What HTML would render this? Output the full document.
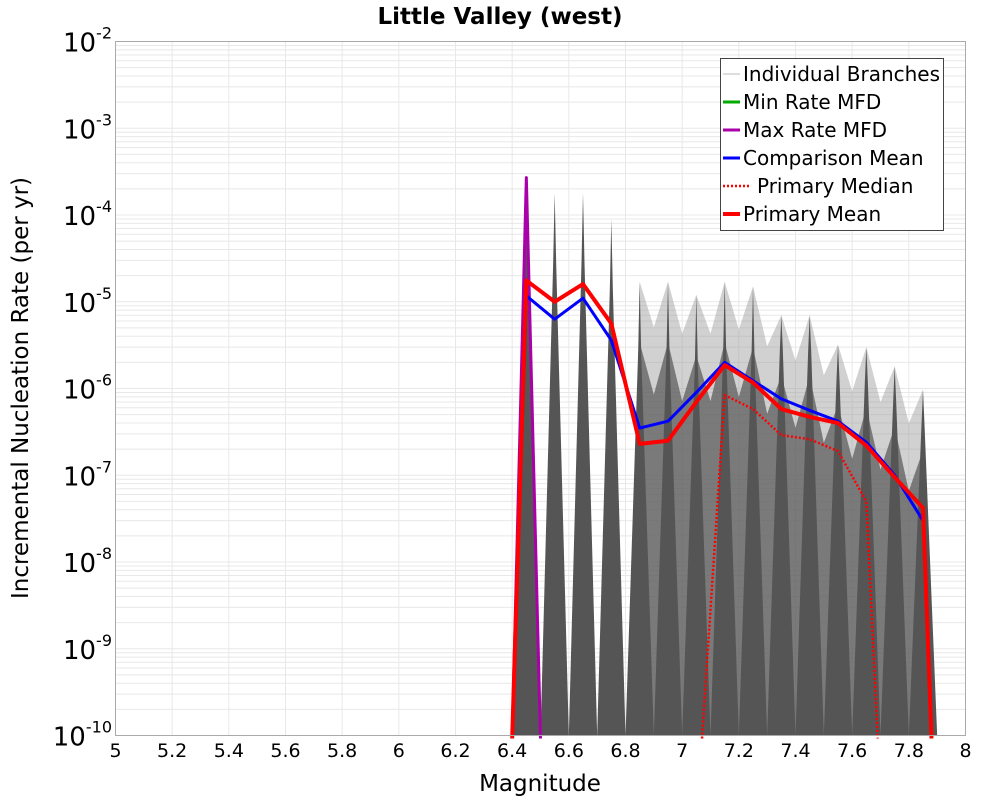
<!DOCTYPE html>
<html><head><meta charset="utf-8"><style>
body{margin:0;background:#fff;font-family:"Liberation Sans","DejaVu Sans",sans-serif}
svg text{font-family:"DejaVu Sans","Liberation Sans",sans-serif}
</style></head><body>
<svg id="chart" width="1000" height="800" xmlns="http://www.w3.org/2000/svg">
<text x="500" y="24" text-anchor="middle" font-size="23" font-weight="bold">Little Valley (west)</text>
<g id="grid"></g>
<g id="branches"></g>
<g id="series"></g>
<rect x="115.5" y="41.5" width="850" height="694" fill="none" stroke="#aaa"/>
<g id="axes"></g>
<text x="540" y="791" text-anchor="middle" font-size="23">Magnitude</text>
<text transform="translate(28,388) rotate(-90)" text-anchor="middle" font-size="23">Incremental Nucleation Rate (per yr)</text>
<g>
<rect x="720.5" y="58.5" width="223" height="172" fill="#fff" stroke="#444"/>
<g><line x1="723" y1="74" x2="740" y2="74" stroke="#bbb"/><text x="743" y="81" font-size="20">Individual Branches</text></g>
<g><line x1="723" y1="102" x2="740" y2="102" stroke="#00aa00" stroke-width="3"/><text x="743" y="109" font-size="20">Min Rate MFD</text></g>
<g><line x1="723" y1="130" x2="740" y2="130" stroke="#aa00aa" stroke-width="3"/><text x="743" y="137" font-size="20">Max Rate MFD</text></g>
<g><line x1="723" y1="158" x2="740" y2="158" stroke="#0000ff" stroke-width="3"/><text x="743" y="165" font-size="20">Comparison Mean</text></g>
<g><line x1="723" y1="186" x2="751" y2="186" stroke="#f00" stroke-width="2.5" stroke-dasharray="2,2"/><text x="757" y="193" font-size="20">Primary Median</text></g>
<g><line x1="723" y1="214" x2="740" y2="214" stroke="#f00" stroke-width="4"/><text x="743" y="221" font-size="20">Primary Mean</text></g>
</g>
</svg>
<script>
const xTicks=[5,5.2,5.4,5.6,5.8,6,6.2,6.4,6.6,6.8,7,7.2,7.4,7.6,7.8,8];
const xTickLabels=["5","5.2","5.4","5.6","5.8","6","6.2","6.4","6.6","6.8","7","7.2","7.4","7.6","7.8","8"];
const yExps=[-2,-3,-4,-5,-6,-7,-8,-9,-10];
const branchMags=[6.45,6.55,6.65,6.75,6.85,6.95,7.05,7.15,7.25,7.35,7.45,7.55,7.65,7.75,7.85];
const branchMax=[2e-4,1.8e-4,1.8e-4,9e-5,1.7e-5,1.7e-5,1.2e-5,1.7e-5,1.5e-5,7e-6,7e-6,3.2e-6,3e-6,1.8e-6,9.7e-7];
const meanMags=[6.40,6.45,6.55,6.65,6.75,6.85,6.95,7.05,7.15,7.25,7.35,7.45,7.55,7.65,7.75,7.85,7.88];
const meanVals=[1e-11,1.76e-5,1e-5,1.6e-5,5.6e-6,2.3e-7,2.5e-7,7e-7,1.86e-6,1.17e-6,5.8e-7,4.7e-7,4e-7,2.2e-7,9.5e-8,4.2e-8,1e-11];
const compMags=[6.40,6.45,6.55,6.65,6.75,6.85,6.95,7.05,7.15,7.25,7.35,7.45,7.55,7.65,7.75,7.85];
const compVals=[1e-11,1.17e-5,6.3e-6,1.1e-5,3.6e-6,3.5e-7,4.2e-7,9e-7,2e-6,1.23e-6,7.6e-7,5.6e-7,4.2e-7,2.4e-7,1e-7,3e-8];
const medianMags=[7.07,7.15,7.25,7.35,7.45,7.55,7.65,7.69];
const medianVals=[1e-11,8.4e-7,5.8e-7,2.9e-7,2.6e-7,1.9e-7,5e-8,1e-11];
const maxMags=[6.40,6.45,6.50];
const maxVals=[1e-11,2.7e-4,1e-11];
const NS="http://www.w3.org/2000/svg";
const X0=115.5,X1=965.5,Y0=41.5,Y1=735.5;
function sx(m){return X0+(m-5)/3*(X1-X0);}
function sy(v){const l=Math.max(Math.log10(v),-10.3);return Math.min(Y0+(-2-l)/8*(Y1-Y0),Y1+3);}
function mk(tag,attrs,parent){const e=document.createElementNS(NS,tag);for(const k in attrs)e.setAttribute(k,attrs[k]);parent.appendChild(e);return e;}
const grid=document.getElementById('grid'),axes=document.getElementById('axes'),br=document.getElementById('branches'),se=document.getElementById('series');
for(let e=-10;e<-2;e++){for(let k=1;k<10;k++){const y=sy(k*Math.pow(10,e));const l=mk('line',{x1:X0,x2:X1,y1:y,y2:y,stroke:'#e8e8e8','stroke-width':1},grid);

}}
xTicks.forEach((t,i)=>{const x=sx(t);const l=mk('line',{x1:x,x2:x,y1:Y0,y2:Y1,stroke:'#e8e8e8'},grid);


const tx=mk('text',{x:x,y:757,'text-anchor':'middle','font-size':19},axes);tx.textContent=xTickLabels[i];

});
yExps.forEach(e=>{const y=sy(Math.pow(10,e));const tx=mk('text',{x:112,y:y+10,'text-anchor':'end','font-size':26},axes);


const a=mk('tspan',{},tx);a.textContent='10';const b=mk('tspan',{dy:-13,'font-size':16},tx);b.textContent=String(e);});
// spiky light fan
function fanPts(scale,drop){const p=[];branchMags.forEach((m,i)=>{if(i<4)return;
if(i>4){const vm=Math.sqrt(branchMax[i]*branchMax[i-1])*drop*scale;p.push(sx(m-0.05)+','+sy(vm));}
p.push(sx(m)+','+sy(branchMax[i]*scale));});
p.push(sx(7.88)+','+Y1);p.push(sx(6.82)+','+Y1);return p.join(' ');}
const fan=mk('polygon',{points:fanPts(1,0.3),fill:'#999','fill-opacity':0.45},br);


const dk=mk('polygon',{points:fanPts(0.2,0.25),fill:'#555','fill-opacity':0.7},br);


branchMags.forEach((m,i)=>{const hw=i<4?0.05:0.05;const x=sx(m),y=sy(branchMax[i]);
const p=mk('polygon',{points:`${sx(m-hw)},${Y1} ${x-1.5},${y+(y<300?70:35)} ${x},${y} ${x+1.5},${y+(y<300?70:35)} ${sx(m+hw)},${Y1}`,fill:'#555'},br);

});
function line(ms,vs,attrs,name){const p=mk('polyline',Object.assign({points:ms.map((m,i)=>sx(m)+','+sy(vs[i])).join(' '),fill:'none','stroke-linejoin':'round'},attrs),se);

}
line(maxMags,maxVals,{stroke:'#aa00aa','stroke-width':3},'max-rate-line');
line(compMags,compVals,{stroke:'#0000ff','stroke-width':3},'comparison-mean-line');
line(medianMags,medianVals,{stroke:'#f00','stroke-width':2.5,'stroke-dasharray':'2,2'},'primary-median-line');
line(meanMags,meanVals,{stroke:'#f00','stroke-width':4},'primary-mean-line');
</script>
</body></html>
